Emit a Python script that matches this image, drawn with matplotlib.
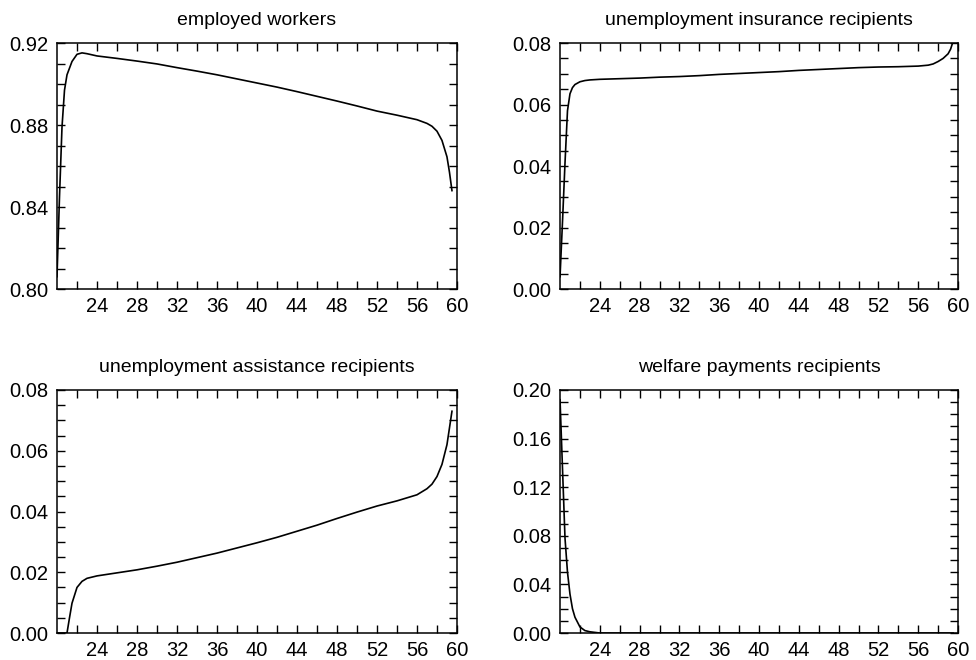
import numpy as np
import matplotlib
matplotlib.use("Agg")
import matplotlib.pyplot as plt
from matplotlib.ticker import FixedLocator, MultipleLocator, FormatStrFormatter

plt.rcParams['font.family'] = ['Liberation Sans', 'DejaVu Sans']

###Donnees###
age_emp = [20, 20.25, 20.5, 20.75, 21, 21.5, 22, 22.5, 23, 24, 26, 28, 30, 32, 34, 36, 38,
           40, 42, 44, 46, 48, 50, 52, 54, 56, 57, 57.5, 58, 58.5, 59, 59.25, 59.5]
employed = [0.806, 0.845, 0.879, 0.897, 0.9045, 0.911, 0.9145, 0.9152, 0.9148, 0.9137,
            0.9125, 0.9112, 0.9098, 0.9080, 0.9063, 0.9045, 0.9025, 0.9005, 0.8985,
            0.8963, 0.8940, 0.8917, 0.8893, 0.8868, 0.8848, 0.8826, 0.8808, 0.8794,
            0.8770, 0.8725, 0.8645, 0.8570, 0.8480]

age_ui = [20, 20.25, 20.5, 20.75, 21, 21.25, 21.5, 22, 22.5, 23, 24, 26, 28, 30, 32, 34, 36,
          38, 40, 42, 44, 46, 48, 50, 52, 54, 56, 57, 57.5, 58, 58.5, 59, 59.25, 59.5]
ui_recip = [0.004, 0.022, 0.041, 0.058, 0.0635, 0.0655, 0.0665, 0.0674, 0.0678, 0.0680,
            0.0682, 0.0684, 0.0686, 0.0689, 0.0691, 0.0694, 0.0698, 0.0701, 0.0704,
            0.0707, 0.0711, 0.0714, 0.0717, 0.0720, 0.0722, 0.0723, 0.0725, 0.0728,
            0.0732, 0.0740, 0.0750, 0.0765, 0.0780, 0.0805]

age_ua = [20, 20.5, 21, 21.25, 21.5, 22, 22.5, 23, 24, 26, 28, 30, 32, 34, 36, 38, 40, 42,
          44, 46, 48, 50, 52, 54, 55, 56, 57, 57.5, 58, 58.5, 59, 59.5]
ua_recip = [0.0, 0.0, 0.0, 0.005, 0.0098, 0.0150, 0.0170, 0.0180, 0.0188, 0.0198, 0.0208,
            0.0220, 0.0233, 0.0248, 0.0263, 0.0280, 0.0297, 0.0315, 0.0335, 0.0355,
            0.0377, 0.0398, 0.0418, 0.0435, 0.0445, 0.0455, 0.0475, 0.0490, 0.0515,
            0.0555, 0.0620, 0.0730]

age_wf = [20, 20.25, 20.5, 20.75, 21, 21.25, 21.5, 22, 22.5, 23, 24, 30, 40, 50, 59.5]
welfare = [0.192, 0.135, 0.078, 0.050, 0.032, 0.020, 0.013, 0.005, 0.002, 0.001, 0.0,
           0.0, 0.0, 0.0, 0.0]

titres = ["employed workers", "unemployment insurance recipients",
          "unemployment assistance recipients", "welfare payments recipients"]
ylims = [(0.80, 0.92), (0.0, 0.08), (0.0, 0.08), (0.0, 0.20)]
ymajor = [0.04, 0.02, 0.02, 0.04]
yminor = [0.01, 0.005, 0.005, 0.01]
xlabels = [24, 28, 32, 36, 40, 44, 48, 52, 56, 60]
xminor = [22, 26, 30, 34, 38, 42, 46, 50, 54, 58]
################################

fig = plt.figure(figsize=(9.76, 6.6), dpi=100)
positions = [[0.0584, 0.5621, 0.4098, 0.3727],
             [0.5738, 0.5621, 0.4078, 0.3727],
             [0.0584, 0.0409, 0.4098, 0.3682],
             [0.5738, 0.0409, 0.4078, 0.3682]]
donnees = [(age_emp, employed), (age_ui, ui_recip), (age_ua, ua_recip), (age_wf, welfare)]

for i in range(4):
    ax = fig.add_axes(positions[i])
    x, y = donnees[i]
    ax.plot(x, y, color='black', linewidth=1.2)
    ax.set_xlim(20, 60)
    ax.set_ylim(*ylims[i])
    ax.xaxis.set_major_locator(FixedLocator(xlabels))
    ax.xaxis.set_minor_locator(FixedLocator(xminor))
    ax.yaxis.set_major_locator(MultipleLocator(ymajor[i]))
    ax.yaxis.set_minor_locator(MultipleLocator(yminor[i]))
    ax.yaxis.set_major_formatter(FormatStrFormatter('%.2f'))
    ax.tick_params(which='both', direction='in', top=True, right=True,
                   length=5.5, width=1.0, labelsize=14.5, pad=6)
    for s in ax.spines.values():
        s.set_linewidth(1.1)
    ax.set_title(titres[i], fontsize=14, pad=13)

fig.savefig("out.png", dpi=100)
